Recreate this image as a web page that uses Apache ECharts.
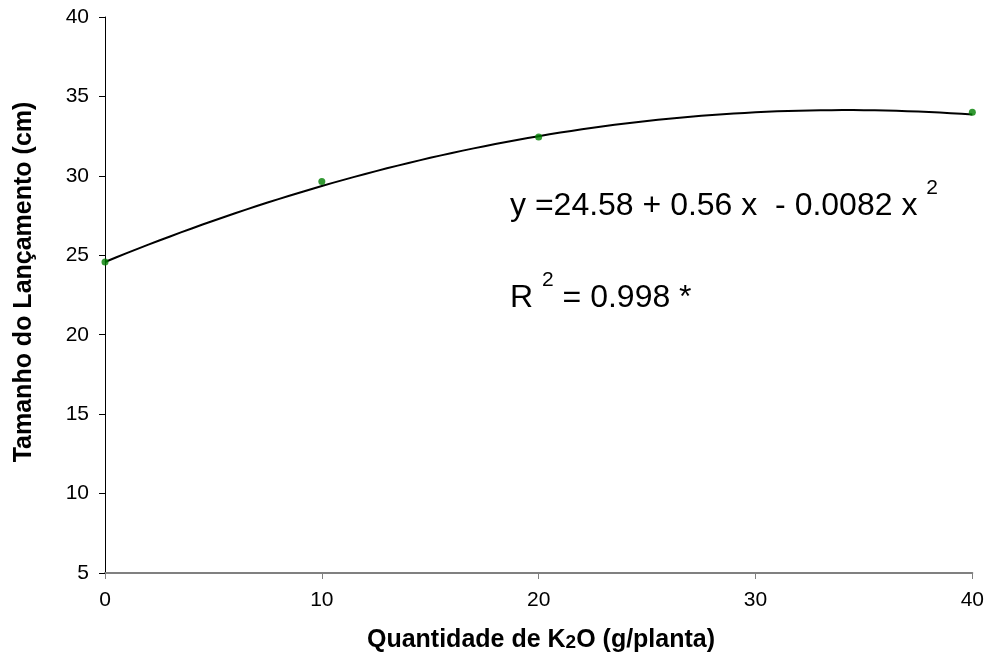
<!DOCTYPE html>
<html>
<head>
<meta charset="utf-8">
<script src="https://cdn.jsdelivr.net/npm/echarts@6/dist/echarts.min.js"></script>
<style>
  html, body { margin: 0; padding: 0; background: #fff; }
  #chart { width: 987px; height: 657px; }
</style>
</head>
<body>
<div id="chart"></div>
<script>
// Observed doses of K2O (g/planta) and measured shoot length (cm)
var doses = [0, 10, 20, 40];
var lengths = [24.58, 29.65, 32.45, 34.0];

// Quadratic fit coefficients: y = b0 + b1 x + b2 x^2
var fitCoef = [24.58, 0.56, -0.0082];
var fitR2 = '0.998';

// Axis tick values
var xTicks = [0, 10, 20, 30, 40];
var yTicks = [5, 10, 15, 20, 25, 30, 35, 40];

// Trend line sampled along the fitted polynomial
var curve = [];
for (var i = 0; i <= 80; i++) {
  var x = i * 0.5;
  curve.push([x, fitCoef[0] + fitCoef[1] * x + fitCoef[2] * x * x]);
}

var font = '"Liberation Sans", Arial, sans-serif';
var chart = echarts.init(document.getElementById('chart'), null, { renderer: 'canvas' });

// Equation text: regular size for the body, raised smaller digit for exponents
var eqRich = {
  t: { fontFamily: font, fontSize: 32, fill: '#000', verticalAlign: 'bottom', lineHeight: 44 },
  sup: { fontFamily: font, fontSize: 21, fill: '#000', verticalAlign: 'top', lineHeight: 21 }
};

chart.setOption({
  backgroundColor: '#ffffff',
  animation: false,
  grid: { left: 105, right: 13, top: 17, bottom: 84, containLabel: false },
  xAxis: {
    type: 'value',
    min: xTicks[0],
    max: xTicks[xTicks.length - 1],
    interval: 10,
    splitLine: { show: false },
    axisLine: { show: true, onZero: false, lineStyle: { color: '#808080', width: 2 } },
    axisTick: { show: true, inside: false, length: 6, lineStyle: { color: '#808080', width: 1 } },
    axisLabel: { color: '#000', fontFamily: font, fontSize: 21, margin: 17 }
  },
  yAxis: {
    type: 'value',
    min: yTicks[0],
    max: yTicks[yTicks.length - 1],
    interval: 5,
    splitLine: { show: false },
    axisLine: { show: true, onZero: false, lineStyle: { color: '#000', width: 1 } },
    axisTick: { show: true, inside: false, length: 6, lineStyle: { color: '#000', width: 1 } },
    axisLabel: { color: '#000', fontFamily: font, fontSize: 21, margin: 16 }
  },
  series: [
    {
      name: 'ajuste',
      type: 'line',
      data: curve,
      showSymbol: false,
      smooth: false,
      lineStyle: { color: '#000', width: 2 },
      z: 2
    },
    {
      name: 'observado',
      type: 'scatter',
      data: doses.map(function (d, k) { return [d, lengths[k]]; }),
      symbol: 'circle',
      symbolSize: 7,
      itemStyle: { color: '#008000' },
      z: 3
    }
  ],
  graphic: [
    {
      // x-axis title
      type: 'text',
      x: 541,
      y: 640,
      style: {
        text: '{b|Quantidade de K}{s|2}{b|O (g/planta)}',
        align: 'center',
        verticalAlign: 'middle',
        rich: {
          b: { fontFamily: font, fontSize: 25, fontWeight: 'bold', fill: '#000', verticalAlign: 'bottom' },
          s: { fontFamily: font, fontSize: 19, fontWeight: 'bold', fill: '#000', verticalAlign: 'bottom' }
        }
      }
    },
    {
      // y-axis title
      type: 'text',
      x: 24,
      y: 282,
      rotation: Math.PI / 2,
      style: {
        text: 'Tamanho do Lançamento (cm)',
        align: 'center',
        verticalAlign: 'middle',
        fontFamily: font,
        fontSize: 25,
        fontWeight: 'bold',
        fill: '#000'
      }
    },
    {
      type: 'text',
      x: 510,
      y: 178,
      style: {
        text: '{t|y =' + fitCoef[0].toFixed(2) + ' + ' + fitCoef[1].toFixed(2) + ' x  - ' + Math.abs(fitCoef[2]).toFixed(4) + ' x }{sup|2}',
        rich: eqRich
      }
    },
    {
      type: 'text',
      x: 510,
      y: 270,
      style: {
        text: '{t|R }{sup|2}{t| = ' + fitR2 + ' *}',
        rich: eqRich
      }
    }
  ]
});
</script>
</body>
</html>
